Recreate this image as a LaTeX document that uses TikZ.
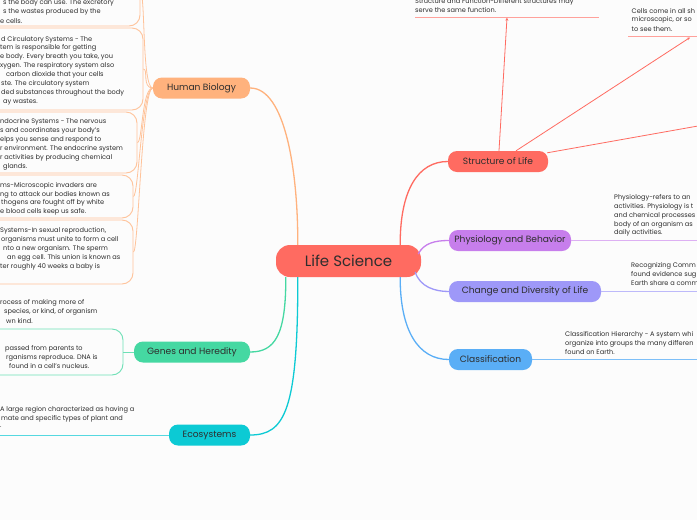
\documentclass[tikz,border=0pt]{standalone}
\usepackage{fontspec}
\setmainfont{Poppins}
\usetikzlibrary{arrows.meta}
\definecolor{bg}{HTML}{FCFCFC}
\definecolor{lsred}{HTML}{FF6B61}
\definecolor{redlight}{HTML}{FFA19B}
\definecolor{hborange}{HTML}{FFB27D}
\definecolor{hbline}{HTML}{FFC39A}
\definecolor{ghgreen}{HTML}{45D8A2}
\definecolor{ghline}{HTML}{6EE0B6}
\definecolor{ecocyan}{HTML}{0CCAD4}
\definecolor{ecoline}{HTML}{55D8E0}
\definecolor{phpurple}{HTML}{C77EEC}
\definecolor{phline}{HTML}{DDB0F3}
\definecolor{chviolet}{HTML}{9E98F8}
\definecolor{chline}{HTML}{BDB9FA}
\definecolor{clblue}{HTML}{5AAEF6}
\definecolor{clline}{HTML}{7DBFF8}
\definecolor{txt}{HTML}{2E2E2E}
\begin{document}
\begin{tikzpicture}[x=1pt,y=-1pt,
  topic/.style={rounded corners=9pt, minimum height=21pt, inner sep=0pt, text=txt, font=\fontsize{9.1}{10}\selectfont},
  central/.style={rounded corners=14pt, minimum height=32pt, minimum width=145pt, inner sep=0pt, fill=lsred, text=txt, font=\fontsize{15}{16}\selectfont},
  small/.style={anchor=west, inner sep=0pt, text=txt, font=\fontsize{6.6}{9}\selectfont},
  hbbox/.style={draw=hbline, line width=0.9pt, rounded corners=11pt, inner sep=0pt},
  ghbox/.style={draw=ghline, line width=0.9pt, rounded corners=11pt, inner sep=0pt},
  thin/.style={line width=0.8pt},
  main/.style={line width=1.3pt},
  tip/.style={-{Stealth[length=3pt,width=3pt]}}
]
\useasboundingbox (0,0) rectangle (697,520);
\fill[bg] (0,0) rectangle (697,520);
\clip (0,0) rectangle (697,520);

% ---------- main nodes ----------
\node[central] (ls) at (348.5,261) {Life Science};
\node[topic, fill=hborange, minimum width=97pt] (hb) at (201.5,88) {Human Biology};
\node[topic, fill=ghgreen, minimum width=116pt] (gh) at (192,352) {Genes and Heredity};
\node[topic, fill=ecocyan, minimum width=81pt] (eco) at (209.5,435) {Ecosystems};
\node[topic, fill=lsred, minimum width=100pt] (sol) at (498,161.5) {Structure of Life};
\node[topic, fill=phpurple, minimum width=122pt] (pb) at (510,240.5) {Physiology and Behavior};
\node[topic, fill=chviolet, minimum width=152pt] (cd) at (525,291.5) {Change and Diversity of Life};
\node[topic, fill=clblue, minimum width=83pt] (cl) at (490.5,359.5) {Classification};

% ---------- main connectors ----------
\draw[main, draw=hborange] (ls.north west) ++(22,0) coordinate (lsA) .. controls (298,170) and (285,88) .. (hb.east);
\draw[main, draw=ghgreen] (ls.south west) ++(10,0) coordinate (lsB) .. controls (286,335) and (275,352) .. (gh.east);
\draw[main, draw=ecocyan] (ls.south west) ++(22,0) coordinate (lsC) .. controls (298,410) and (285,435) .. (eco.east);
\draw[main, draw=lsred] (ls.north east) ++(-21,0) coordinate (lsD) .. controls (400,190) and (418,161.5) .. (sol.west);
\draw[main, draw=phpurple] (ls.east) ++(-3,-7) coordinate (lsE) .. controls (424,243) and (435,240.5) .. (pb.west);
\draw[main, draw=chviolet] (ls.east) ++(-6,11) coordinate (lsF) .. controls (420,287) and (435,291.5) .. (cd.west);
\draw[main, draw=clblue] (ls.south east) ++(-21,0) coordinate (lsG) .. controls (400,330) and (418,359.5) .. (cl.west);

% ---------- Human Biology boxes ----------
\node[hbbox, minimum width=170pt, minimum height=66pt] (hbx1) at (55,-7) {};
\node[hbbox, minimum width=173pt, minimum height=82pt] (hbx2) at (56.5,69) {};
\node[hbbox, minimum width=167pt, minimum height=61pt] (hbx3) at (53.5,142.5) {};
\node[hbbox, minimum width=163pt, minimum height=43pt] (hbx4) at (51.5,196.5) {};
\node[hbbox, minimum width=163pt, minimum height=64pt] (hbx5) at (51.5,252) {};
\foreach \b in {hbx1,hbx2,hbx3,hbx4,hbx5}
  \draw[thin, draw=hbline] (hb.west) .. controls +(-11,0) and +(5,0) .. (\b.east);

\node[small] (t1a) at (3,3) {s the body can use. The excretory};
\node[small] (t1b) at (3,12) {s the wastes produced by the};
\node[small] (t1c) at (0,21) {e cells.};

\node[small] (t2a) at (1,39.5) {d Circulatory Systems - The};
\node[small] (t2b) at (0,48) {tem is responsible for getting};
\node[small] (t2c) at (0,57) {e body. Every breath you take, you};
\node[small] (t2d) at (0,66) {xygen. The respiratory system also};
\node[small] (t2e) at (6,75) {carbon dioxide that your cells};
\node[small] (t2f) at (1,84) {ste. The circulatory system};
\node[small] (t2g) at (1,93) {ded substances throughout the body};
\node[small] (t2h) at (3,102) {ay wastes.};

\node[small] (t3a) at (0,122) {ndocrine Systems - The nervous};
\node[small] (t3b) at (0,131) {s and coordinates your body's};
\node[small] (t3c) at (0,139.5) {elps you sense and respond to};
\node[small] (t3d) at (0,148.5) {r environment. The endocrine system};
\node[small] (t3e) at (0,157.5) {r activities by producing chemical};
\node[small] (t3f) at (3,166.5) {glands.};

\node[small] (t4a) at (0,186) {ms-Microscopic invaders are};
\node[small] (t4b) at (0,194.5) {ng to attack our bodies known as};
\node[small] (t4c) at (1,203) {thogens are fought off by white};
\node[small] (t4d) at (0,212) {e blood cells keep us safe.};

\node[small] (t5a) at (0,231) {Systems-In sexual reproduction,};
\node[small] (t5b) at (1,240) {organisms must unite to form a cell};
\node[small] (t5c) at (3,249) {nto a new organism. The sperm};
\node[small] (t5d) at (7,258) {an egg cell. This union is known as};
\node[small] (t5e) at (0,267) {ter roughly 40 weeks a baby is};

% ---------- Genes and Heredity ----------
\node[small] (g1a) at (0,303) {rocess of making more of};
\node[small] (g1b) at (4,312) {species, or kind, of organism};
\node[small] (g1c) at (6,321) {wn kind.};
\node[ghbox, minimum width=153pt, minimum height=46pt] (ghx) at (46.5,352) {};
\draw[thin, draw=ghline] (gh.west) -- (ghx.east);
\node[small] (g2a) at (5,348.5) {passed from parents to};
\node[small] (g2b) at (6,357.5) {rganisms reproduce. DNA is};
\node[small] (g2c) at (9,366.5) {found in a cell's nucleus.};

% ---------- Ecosystems ----------
\coordinate (ecoend) at (-5,435);
\draw[line width=1pt, draw=ecoline] (eco.west) -- (ecoend);
\node[small] (e1a) at (0,409.5) {A large region characterized as having a};
\node[small] (e1b) at (1,418.5) {mate and specific types of plant and};
\node[small] (e1c) at (0,427) {.};

% ---------- Structure of Life children ----------
\coordinate (sfL) at (415,17.7);
\coordinate (sfR) at (599,17.7);
\coordinate (sf) at (507,17.7);
\draw[line width=1.4pt, draw=redlight] (sfL) -- (sfR);
\node[small] (sfa) at (415,1.5) {Structure and Function-Different structures may};
\node[small] (sfb) at (415,10.5) {serve the same function.};
\draw[thin, draw=lsred, tip] (sol.north) ++(1,0) coordinate (solA) -- (sf);

\coordinate (ccL) at (628,36.7);
\coordinate (ccR) at (705,36.7);
\coordinate (cc) at (690,37.5);
\draw[line width=1.4pt, draw=redlight] (ccL) -- (ccR);
\node[small] (cca) at (631.5,11) {Cells come in all sh};
\node[small] (ccb) at (631.5,20) {microscopic, or so};
\node[small] (ccc) at (631.5,29) {to see them.};
\draw[thin, draw=lsred, tip] (sol.north) ++(18,0) coordinate (solB) -- (cc);

\coordinate (s3) at (712,123.5);
\draw[thin, draw=lsred] (sol.north east) ++(-1,2) coordinate (solC) -- (s3);

% ---------- Physiology ----------
\coordinate (pbR) at (705,240.5);
\draw[line width=1.4pt, draw=phline] (pb.east) -- (pbR);
\node[small] (pa) at (614,197.5) {Physiology-refers to an};
\node[small] (pbb) at (614,206.5) {activities. Physiology is t};
\node[small] (pc) at (614,215.5) {and chemical processes};
\node[small] (pd) at (614,224.5) {body of an organism as};
\node[small] (pe) at (614,233) {daily activities.};

% ---------- Change and Diversity ----------
\coordinate (cdR) at (705,291.5);
\draw[line width=1.4pt, draw=chline] (cd.east) -- (cdR);
\node[small] (ca) at (631,265.5) {Recognizing Comm};
\node[small] (cb) at (631,274.5) {found evidence sug};
\node[small] (cc2) at (631,283.5) {Earth share a comm};

% ---------- Classification ----------
\coordinate (clR) at (705,359.5);
\draw[line width=1.4pt, draw=clline] (cl.east) -- (clR);
\node[small] (cla) at (565,335) {Classification Hierarchy - A system whi};
\node[small] (clb) at (565,344) {organize into groups the many differen};
\node[small] (clc) at (565,352.5) {found on Earth.};
\end{tikzpicture}
\end{document}
